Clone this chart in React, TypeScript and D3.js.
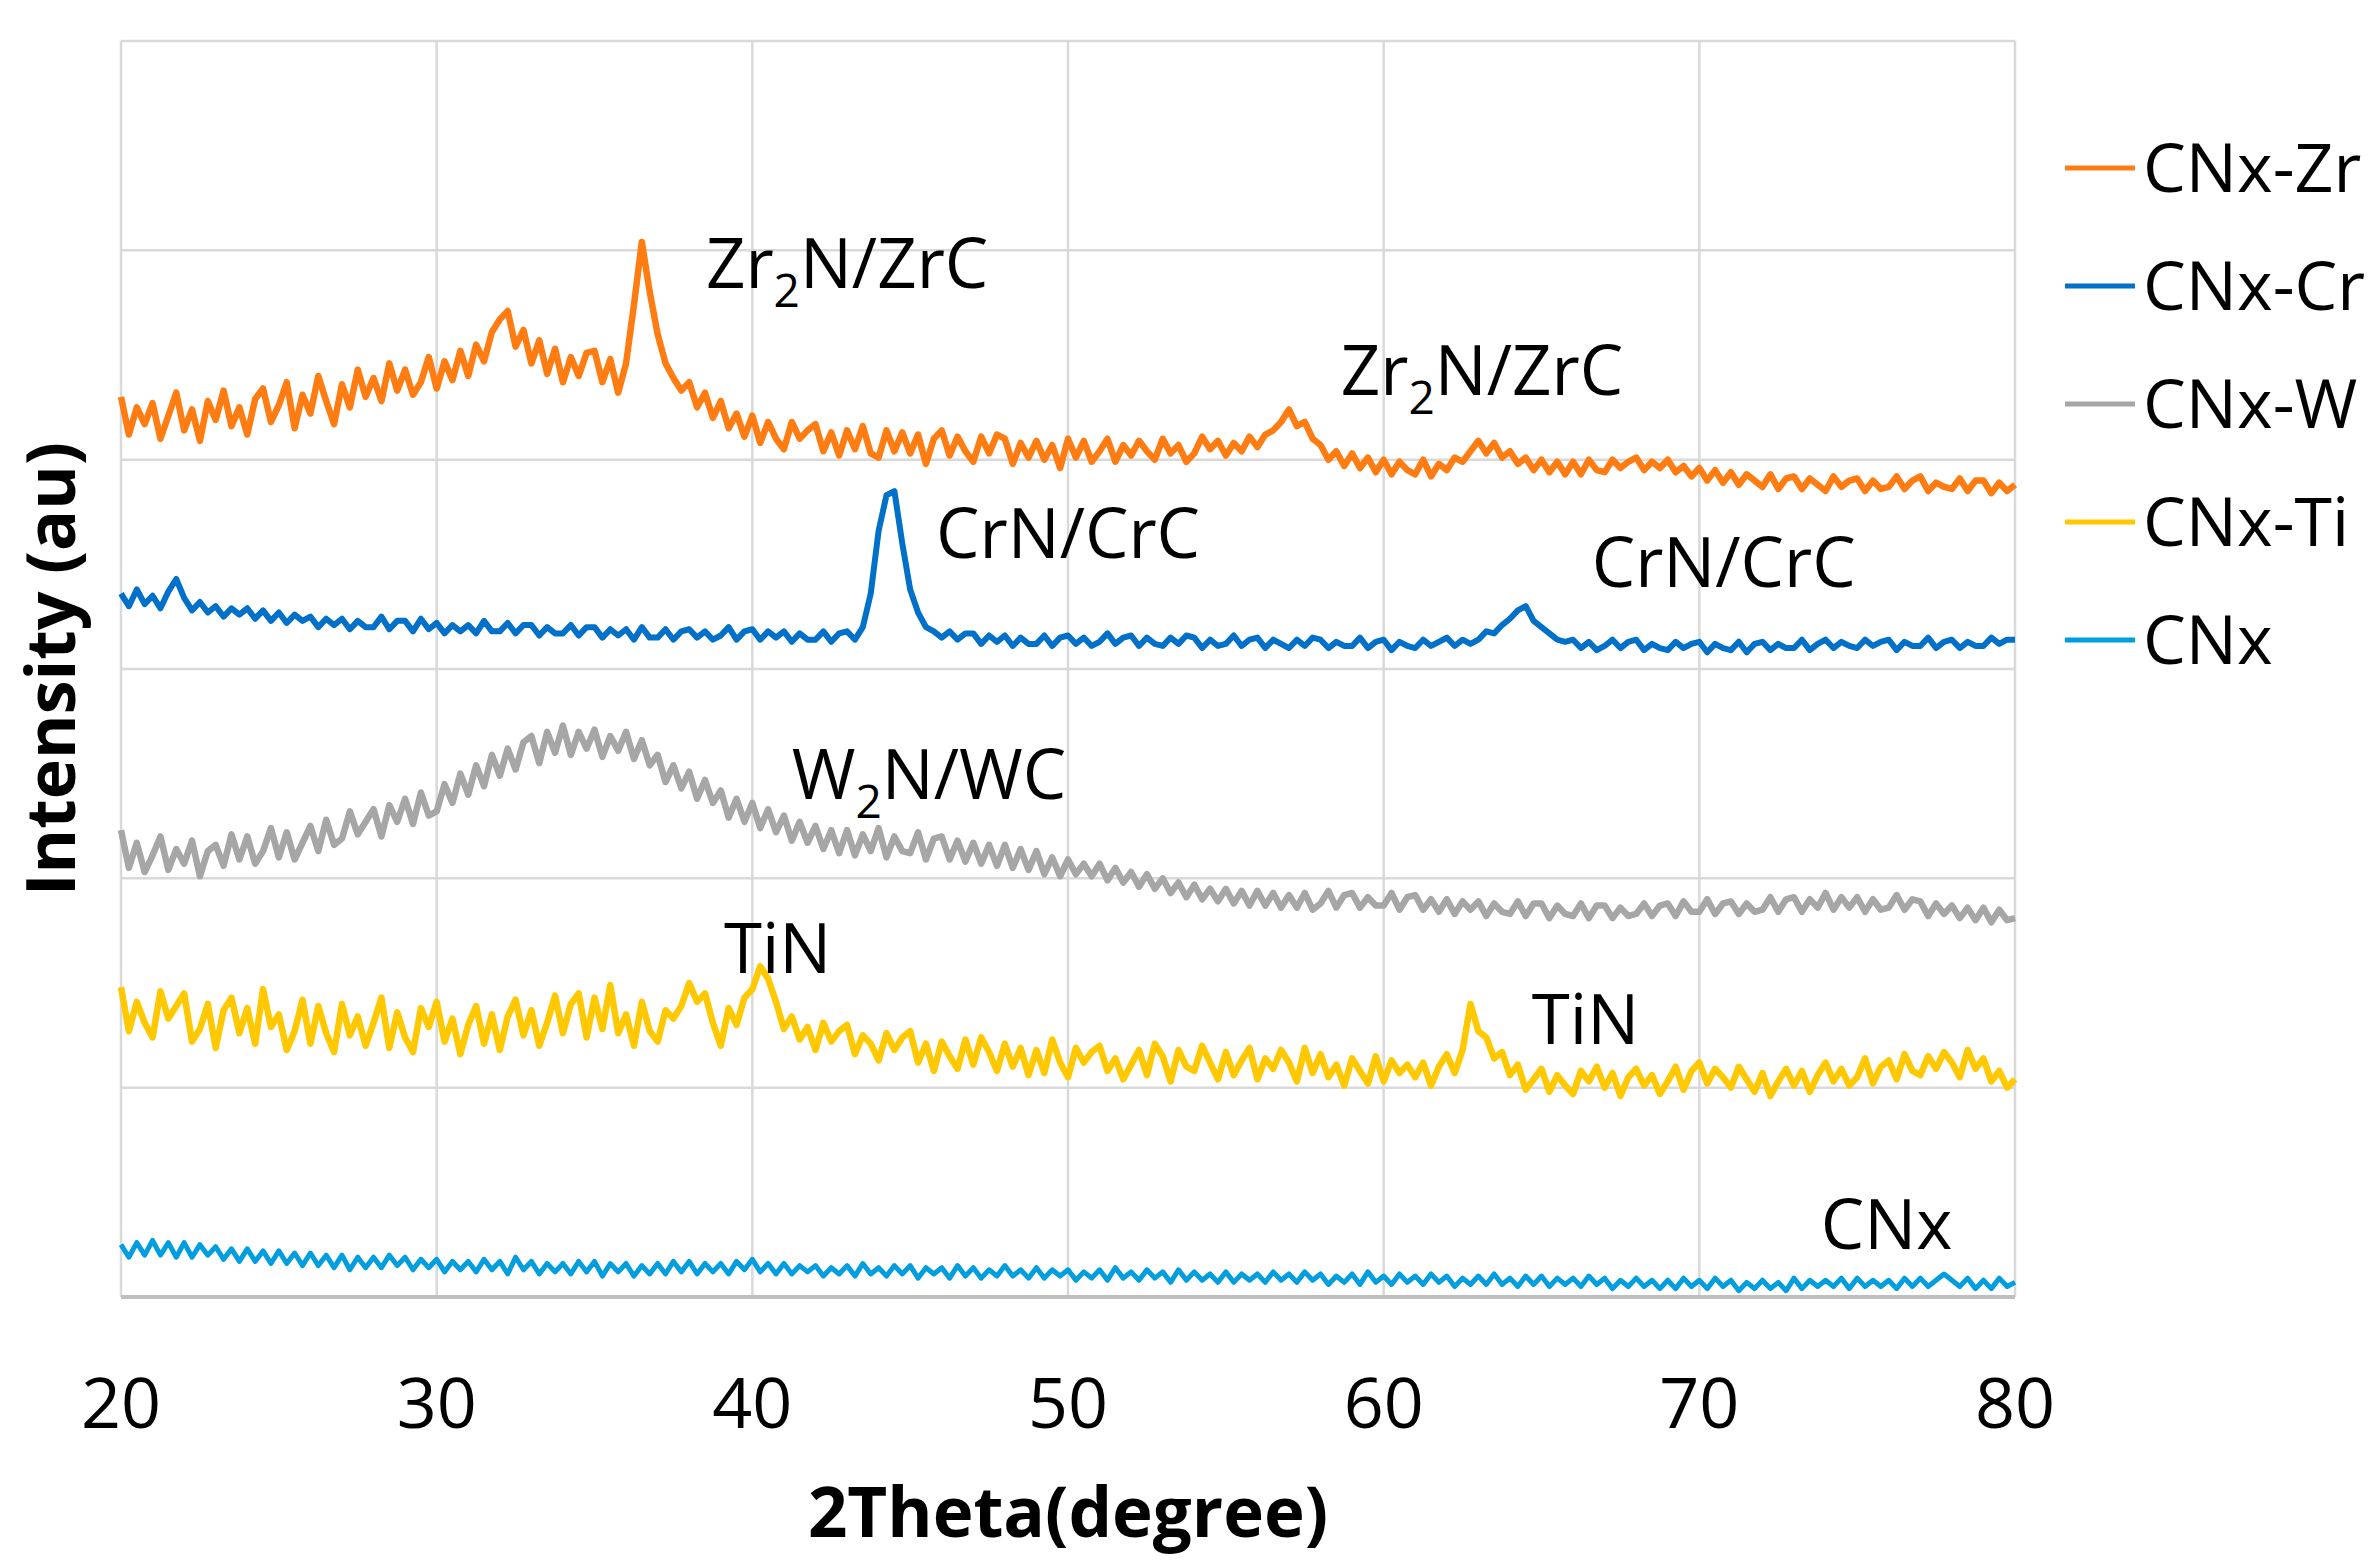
import React from "react";
import * as d3 from "d3";

// ---------- data (intensity in arbitrary units, gridline spacing = 100) ----------
const thetaStart = 20;
const thetaStep = 0.25;
const xTicks = [20, 30, 40, 50, 60, 70, 80];
const yGrid = [0, 100, 200, 300, 400, 500, 600];

const seriesNames = ["CNx-Zr", "CNx-Cr", "CNx-W", "CNx-Ti", "CNx"];
const seriesColors = ["#FF7C12", "#0070C8", "#A6A6A6", "#FFC800", "#009DDF"];

const zrValues = [
  430, 412, 425, 417, 427, 410, 421, 432, 414, 424, 409, 428, 419, 433, 416, 425, 412, 429, 434, 418,
  426, 437, 415, 431, 422, 440, 428, 417, 436, 425, 443, 430, 439, 428, 446, 433, 443, 431, 437, 449,
  434, 447, 438, 452, 440, 455, 447, 461, 467, 471, 454, 462, 446, 457, 441, 453, 437, 449, 440, 451,
  452, 437, 448, 432, 446, 474, 504, 480, 460, 446, 439, 433, 437, 425, 432, 420, 428, 415, 422, 411,
  421, 408, 418, 410, 405, 418, 410, 414, 417, 404, 413, 402, 414, 405, 416, 403, 401, 414, 404, 413,
  403, 412, 398, 410, 414, 402, 411, 404, 399, 411, 403, 412, 410, 398, 408, 401, 409, 400, 407, 396,
  410, 401, 409, 399, 404, 410, 399, 407, 402, 409, 404, 400, 410, 403, 407, 399, 403, 411, 405, 409,
  402, 408, 404, 411, 406, 412, 414, 418, 424, 416, 418, 410, 407, 400, 404, 397, 403, 396, 401, 394,
  400, 393, 399, 395, 393, 400, 392, 398, 395, 401, 399, 404, 409, 403, 408, 401, 404, 398, 401, 395,
  400, 394, 399, 393, 399, 393, 400, 395, 394, 400, 396, 399, 401, 395, 399, 396, 400, 394, 397, 392,
  396, 390, 395, 389, 394, 388, 393, 390, 387, 393, 386, 391, 392, 386, 391, 388, 385, 392, 387, 390,
  391, 385, 390, 386, 387, 392, 386, 390, 392, 385, 389, 387, 386, 391, 385, 390, 390, 384, 389, 385,
  388,
];

const crValues = [
  336, 330, 338, 331, 335, 329, 337, 343, 334, 328, 332, 327, 330, 325, 329, 326, 329, 324, 328, 323,
  327, 322, 326, 323, 325, 320, 324, 321, 324, 319, 323, 320, 320, 325, 319, 323, 323, 318, 324, 319,
  322, 317, 321, 318, 321, 317, 323, 318, 318, 322, 317, 321, 321, 316, 320, 317, 317, 321, 316, 320,
  320, 315, 319, 316, 319, 314, 320, 315, 315, 319, 314, 318, 319, 315, 318, 314, 316, 320, 314, 318,
  319, 314, 318, 315, 318, 313, 317, 314, 314, 318, 313, 317, 318, 314, 320, 336, 366, 383, 385, 360,
  338, 327, 320, 318, 315, 318, 314, 317, 317, 312, 316, 313, 316, 311, 315, 312, 312, 316, 311, 315,
  316, 312, 315, 311, 313, 317, 312, 315, 316, 311, 315, 312, 311, 315, 312, 316, 315, 310, 314, 311,
  312, 316, 311, 314, 315, 310, 314, 312, 310, 314, 311, 315, 314, 310, 313, 311, 311, 315, 310, 313,
  314, 309, 313, 311, 310, 314, 311, 313, 315, 311, 314, 312, 314, 318, 317, 321, 324, 328, 330, 323,
  320, 317, 314, 313, 314, 310, 313, 309, 311, 314, 310, 313, 314, 309, 312, 310, 309, 313, 310, 312,
  313, 308, 312, 310, 309, 313, 308, 312, 313, 309, 312, 310, 310, 314, 309, 312, 314, 310, 313, 311,
  310, 314, 311, 313, 314, 309, 313, 311, 311, 315, 310, 313, 314, 310, 313, 311, 311, 315, 312, 314,
  314,
];

const wValues = [
  223, 205, 217, 203, 211, 220, 204, 214, 207, 218, 201, 213, 216, 206, 221, 209, 220, 207, 213, 224,
  210, 222, 209, 217, 225, 213, 228, 216, 219, 232, 221, 227, 233, 220, 235, 227, 238, 226, 241, 230,
  232, 245, 236, 250, 240, 254, 244, 259, 249, 262, 252, 265, 268, 255, 270, 260, 273, 259, 270, 262,
  271, 258, 268, 261, 270, 257, 266, 254, 259, 246, 254, 243, 251, 238, 247, 236, 242, 229, 238, 227,
  236, 224, 233, 222, 230, 218, 227, 217, 225, 214, 223, 212, 223, 211, 221, 213, 224, 210, 220, 213,
  212, 222, 209, 219, 220, 209, 218, 208, 217, 207, 216, 206, 216, 205, 214, 204, 213, 202, 210, 201,
  209, 202, 207, 201, 207, 199, 205, 198, 203, 196, 202, 195, 200, 193, 198, 191, 197, 190, 195, 189,
  195, 188, 194, 187, 194, 187, 193, 186, 192, 186, 193, 185, 188, 194, 186, 192, 193, 186, 191, 187,
  187, 193, 185, 191, 192, 185, 190, 184, 190, 183, 189, 185, 189, 182, 188, 184, 183, 189, 182, 188,
  188, 181, 187, 183, 182, 188, 181, 187, 187, 181, 186, 182, 183, 188, 182, 187, 188, 182, 189, 184,
  184, 190, 183, 188, 189, 183, 188, 184, 185, 191, 184, 190, 191, 184, 190, 186, 193, 185, 191, 186,
  191, 184, 190, 185, 186, 192, 185, 190, 189, 182, 188, 183, 187, 181, 186, 180, 186, 179, 185, 180,
  181,
];

const tiValues = [
  148, 127, 141, 131, 124, 146, 133, 139, 145, 122, 128, 140, 119, 137, 143, 126, 138, 121, 147, 129,
  135, 118, 127, 142, 121, 139, 126, 117, 140, 125, 134, 120, 131, 143, 119, 136, 124, 117, 138, 129,
  141, 122, 133, 116, 130, 139, 121, 135, 118, 134, 142, 125, 137, 120, 131, 144, 126, 140, 145, 124,
  143, 128, 149, 126, 135, 120, 141, 127, 122, 137, 133, 139, 150, 141, 145, 131, 120, 138, 130, 143,
  147, 158, 152, 141, 128, 134, 123, 129, 118, 131, 122, 127, 130, 116, 125, 121, 113, 126, 118, 124,
  127, 112, 121, 108, 122, 115, 109, 123, 111, 124, 117, 108, 121, 110, 119, 106, 118, 107, 123, 112,
  105, 119, 112, 117, 120, 108, 114, 104, 111, 118, 106, 121, 115, 103, 118, 110, 108, 120, 112, 104,
  117, 106, 113, 119, 104, 114, 109, 118, 112, 103, 119, 107, 116, 105, 111, 101, 114, 108, 102, 115,
  103, 113, 107, 111, 105, 112, 101, 110, 116, 107, 118, 140, 127, 124, 114, 117, 106, 111, 99, 104,
  109, 98, 106, 101, 97, 108, 103, 110, 100, 107, 96, 105, 109, 101, 106, 97, 103, 110, 99, 108,
  112, 102, 109, 105, 100, 110, 104, 98, 107, 96, 103, 109, 101, 108, 98, 106, 112, 103, 109, 101,
  105, 114, 102, 110, 113, 104, 116, 108, 106, 115, 109, 117, 112, 105, 118, 109, 114, 103, 108, 100,
  104,
];

const cnxValues = [
  25, 19, 26, 20, 27, 20, 26, 19, 26, 19, 25, 20, 24, 18, 23, 17, 23, 17, 22, 16,
  22, 16, 21, 15, 21, 15, 20, 14, 20, 13, 19, 14, 19, 14, 20, 15, 19, 13, 18, 14,
  18, 12, 17, 13, 17, 12, 18, 13, 17, 11, 19, 13, 17, 11, 16, 12, 16, 11, 17, 12,
  17, 10, 16, 12, 16, 10, 15, 11, 16, 11, 17, 12, 17, 11, 16, 12, 16, 11, 17, 13,
  18, 12, 16, 11, 16, 11, 15, 12, 15, 10, 14, 11, 15, 10, 16, 11, 14, 10, 15, 11,
  15, 9, 14, 11, 14, 9, 15, 10, 14, 9, 13, 10, 15, 10, 13, 9, 14, 9, 13, 10,
  13, 8, 12, 9, 13, 8, 14, 9, 12, 8, 13, 9, 12, 7, 13, 8, 12, 8, 11, 7,
  12, 7, 11, 8, 11, 7, 12, 8, 11, 7, 12, 8, 11, 6, 10, 7, 11, 6, 12, 7,
  10, 6, 11, 7, 10, 6, 11, 7, 10, 5, 9, 6, 10, 6, 11, 6, 9, 5, 10, 6,
  10, 5, 9, 6, 9, 5, 10, 6, 9, 4, 8, 5, 9, 5, 8, 4, 8, 4, 9, 5,
  8, 4, 9, 5, 8, 3, 7, 4, 8, 4, 7, 3, 9, 4, 8, 5, 8, 5, 9, 4,
  9, 5, 8, 5, 8, 4, 9, 5, 9, 5, 8, 11, 8, 5, 9, 4, 8, 4, 9, 5,
  7,
];

const seriesValues = [zrValues, crValues, wValues, tiValues, cnxValues];
const seriesStroke = [6.5, 6, 6.5, 6.5, 5];

// peak labels
const labelTexts = ["Zr", "Zr", "CrN/CrC", "CrN/CrC", "W", "TiN", "TiN", "CNx"];
const labelSubs = ["2", "2", "", "", "2", "", "", ""];
const labelTails = ["N/ZrC", "N/ZrC", "", "", "N/WC", "", "", ""];
const labelTheta = [38.53, 58.64, 45.82, 66.59, 41.25, 39.1, 64.69, 73.85];
const labelIntensity = [482, 431, 353, 339, 238, 155, 121, 23];

// ---------- layout ----------
const W = 2379;
const H = 1567;
const plot = { left: 121, right: 2015, top: 41, bottom: 1297 };
const FONT = "'Open Sans', 'Noto Sans', sans-serif";

export default function App() {
  const x = d3.scaleLinear().domain([20, 80]).range([plot.left, plot.right]);
  const y = d3.scaleLinear().domain([0, 600]).range([plot.bottom, plot.top]);

  const line = d3
    .line<number>()
    .x((_, i) => x(thetaStart + i * thetaStep))
    .y((v) => y(v));

  const drawOrder = [4, 3, 2, 1, 0];

  return (
    <svg
      width={W}
      height={H}
      style={{ position: "absolute", left: 0, top: 0, display: "block", background: "#fff" }}
      fontFamily={FONT}
    >
      <rect x={0} y={0} width={W} height={H} fill="#fff" />
      {/* gridlines */}
      {yGrid
        .filter((v) => v > 0)
        .map((v) => (
          <line key={"h" + v} x1={plot.left} x2={plot.right} y1={y(v)} y2={y(v)} stroke="#D9D9D9" strokeWidth={2.5} />
        ))}
      {xTicks.map((t) => (
        <line key={"v" + t} x1={x(t)} x2={x(t)} y1={plot.top} y2={plot.bottom} stroke="#D9D9D9" strokeWidth={2.5} />
      ))}
      <line x1={plot.left} x2={plot.right} y1={y(0)} y2={y(0)} stroke="#BFBFBF" strokeWidth={4} />

      {/* series */}
      {drawOrder.map((si) => (
        <path
          key={seriesNames[si]}
          d={line(seriesValues[si]) || ""}
          fill="none"
          stroke={seriesColors[si]}
          strokeWidth={seriesStroke[si]}
          strokeLinejoin="round"
        />
      ))}

      {/* peak labels */}
      {labelTexts.map((t, i) => (
        <text key={"lab" + i} x={x(labelTheta[i])} y={y(labelIntensity[i])} fontSize={69} fill="#000">
          {t}
          {labelSubs[i] && (
            <tspan fontSize={46} dy={19}>
              {labelSubs[i]}
            </tspan>
          )}
          {labelTails[i] && <tspan dy={labelSubs[i] ? -19 : 0}>{labelTails[i]}</tspan>}
        </text>
      ))}

      {/* x tick labels */}
      {xTicks.map((t) => (
        <text key={"xt" + t} x={x(t)} y={1428} fontSize={70} textAnchor="middle" fill="#000">
          {t}
        </text>
      ))}

      {/* axis titles */}
      <text x={(plot.left + plot.right) / 2} y={1537} fontSize={69} fontWeight={700} textAnchor="middle" fill="#000">
        2Theta(degree)
      </text>
      <text
        transform={`translate(75, ${(plot.top + plot.bottom) / 2}) rotate(-90)`}
        fontSize={68}
        fontWeight={700}
        textAnchor="middle"
        fill="#000"
      >
        Intensity (au)
      </text>

      {/* legend */}
      {seriesNames.map((n, i) => (
        <g key={"lg" + n} transform={`translate(2065, ${168 + i * 118})`}>
          <line x1={0} x2={70} y1={0} y2={0} stroke={seriesColors[i]} strokeWidth={5} />
          <text x={78} y={24} fontSize={68} fill="#000">
            {n}
          </text>
        </g>
      ))}
    </svg>
  );
}
